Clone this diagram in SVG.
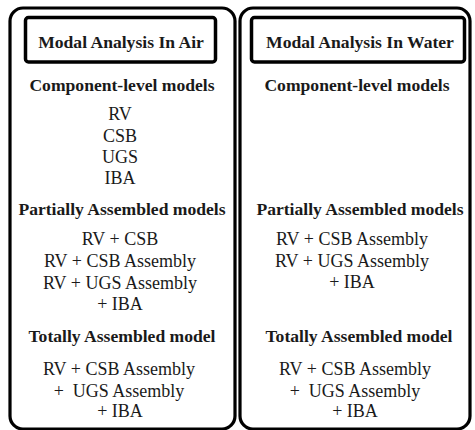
<svg xmlns="http://www.w3.org/2000/svg" width="475" height="430" viewBox="0 0 475 430">
<style>
.outer{fill:none;stroke:#000;stroke-width:3.2}
.inner{fill:none;stroke:#000;stroke-width:3.5}
.t{font-family:"Liberation Serif","Times New Roman",serif;font-size:18px;fill:#1a1a1a;text-anchor:middle}
.b{font-weight:bold;font-size:17.6px}
</style>
<rect width="475" height="430" fill="#fff"/>
<g id="air">
<rect class="outer" x="10" y="8" width="225" height="421" rx="13"/>
<rect class="inner" x="25.5" y="17.5" width="190" height="44.5" rx="3"/>
<text class="t b" x="121" y="48">Modal Analysis In Air</text>
<text class="t b" x="122" y="91">Component-level models</text>
<text class="t" x="120" y="120">RV</text>
<text class="t" x="120" y="142">CSB</text>
<text class="t" x="120" y="163">UGS</text>
<text class="t" x="120" y="184">IBA</text>
<text class="t b" x="122" y="215">Partially Assembled models</text>
<text class="t" x="120" y="245">RV + CSB</text>
<text class="t" x="120" y="267">RV + CSB Assembly</text>
<text class="t" x="120" y="289">RV + UGS Assembly</text>
<text class="t" x="120" y="310">+ IBA</text>
<text class="t b" x="122" y="342">Totally Assembled model</text>
<text class="t" x="119" y="375">RV + CSB Assembly</text>
<text class="t" x="119" y="397" xml:space="preserve">+  UGS Assembly</text>
<text class="t" x="120" y="417">+ IBA</text>
</g>
<g id="water">
<rect class="outer" x="240" y="8" width="230" height="421" rx="13"/>
<rect class="inner" x="251.5" y="17.5" width="213" height="44.5" rx="3"/>
<text class="t b" x="360" y="48">Modal Analysis In Water</text>
<text class="t b" x="357" y="91">Component-level models</text>
<text class="t b" x="360" y="215">Partially Assembled models</text>
<text class="t" x="352" y="245">RV + CSB Assembly</text>
<text class="t" x="352" y="267">RV + UGS Assembly</text>
<text class="t" x="352" y="288">+ IBA</text>
<text class="t b" x="359" y="342">Totally Assembled model</text>
<text class="t" x="355" y="375">RV + CSB Assembly</text>
<text class="t" x="355" y="397" xml:space="preserve">+  UGS Assembly</text>
<text class="t" x="355" y="417">+ IBA</text>
</g>
<g id="connectors"></g>
</svg>
